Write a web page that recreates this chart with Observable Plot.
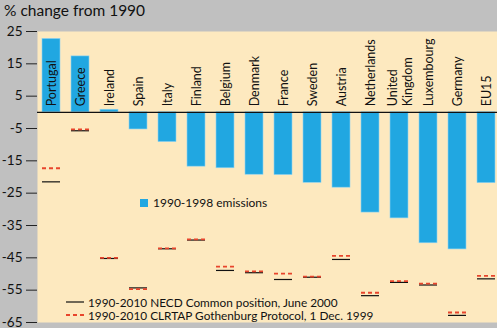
<!DOCTYPE html>
<html><head><meta charset="utf-8">
<script src="https://cdn.jsdelivr.net/npm/d3@7"></script>
<script src="https://cdn.jsdelivr.net/npm/@observablehq/plot@0.6"></script>
<style>
body{margin:0;background:#c0c0c0;font-family:Lato,"Open Sans",sans-serif;}
#wrap{position:relative;width:497px;height:328px;overflow:hidden;}
.ov{position:absolute;white-space:nowrap;color:#111;display:flex;align-items:center;overflow:visible;}
</style></head>
<body><div id="wrap"></div>
<script>
const categories = ["Portugal","Greece","Ireland","Spain","Italy","Finland","Belgium","Denmark","France","Sweden","Austria","Netherlands","United Kingdom","Luxembourg","Germany","EU15"];
const labels = ["Portugal","Greece","Ireland","Spain","Italy","Finland","Belgium","Denmark","France","Sweden","Austria","Netherlands","United\nKingdom","Luxembourg","Germany","EU15"];
const emissions = [22.7, 17.3, 0.8, -5.3, -9.2, -16.8, -17.3, -19.3, -19.4, -21.8, -23.3, -31.0, -32.8, -40.5, -42.4, -21.9];
const necd = [-21.5, -5.7, -45.2, -54.3, -42.2, -39.5, -48.9, -49.6, -51.7, -51.0, -45.5, -56.7, -52.6, -53.4, -62.8, -51.5];
const clrtap = [-17.3, -5.3, -45.0, -54.7, -42.1, -39.3, -47.7, -49.2, -49.9, -50.8, -44.4, -55.8, -52.2, -53.0, -61.9, -50.6];
const yTicks = [25, 15, 5, -5, -15, -25, -35, -45, -55, -65];

const rows = categories.map((c, i) => ({c, label: labels[i], e: emissions[i], n: necd[i], r: clrtap[i]}));

const BAR = "#21a7e1", RED = "#e8452c", BG = "#fde9bf";

const chart = Plot.plot({
  width: 497, height: 328,
  marginTop: 31, marginBottom: 6, marginLeft: 37, marginRight: 0,
  style: "background:#c0c0c0;overflow:visible;font-family:Lato,'Open Sans',sans-serif;",
  x: {type: "band", domain: categories, range: [36, 501.3], paddingInner: 0.39, paddingOuter: 0.195, axis: null},
  y: {domain: [-65, 25], ticks: yTicks, tickSize: 11, tickPadding: 4, label: null},
  marks: [
    Plot.frame({fill: BG, stroke: null}),
    Plot.axisY({ticks: yTicks, tickSize: 11, tickPadding: 4, fontSize: 13.5, stroke: "#222", color: "#111", label: null, tickFormat: d => String(d)}),
    Plot.barY(rows, {x: "c", y: "e", fill: BAR, stroke: "#8fd3f2", strokeWidth: 0.6}),
    Plot.ruleY([0], {stroke: "#111", strokeWidth: 1.2}),
    Plot.text(rows, {x: "c", y: () => 0, text: "label", rotate: -90, textAnchor: "start", dy: -6, fontSize: 12.5, fill: "#111", lineHeight: 1.2}),
    Plot.tickY(rows, {x: "c", y: "n", stroke: "#111", strokeWidth: 1.2}),
    Plot.tickY(rows, {x: "c", y: "r", stroke: RED, strokeWidth: 1.8, strokeDasharray: "4,3"})
  ]
});
const wrap = document.getElementById("wrap");
wrap.appendChild(chart);

function ov(html, left, top, size, h) {
  const d = document.createElement("div");
  d.className = "ov";
  d.style.left = left + "px"; d.style.top = top + "px"; d.style.fontSize = size + "px";
  d.style.height = h + "px"; d.style.lineHeight = h + "px";
  d.innerHTML = html;
  wrap.appendChild(d);
}
ov("% change from 1990", 4, 0, 15.5, 20);
ov(`<span style="display:inline-block;width:8px;height:8px;background:${BAR};margin-right:5px"></span>1990-1998 emissions`, 140, 197, 12, 12);
ov(`<svg width="18" height="4" style="margin-right:4px"><line x1="0" x2="18" y1="2" y2="2" stroke="#111" stroke-width="1.2"/></svg>1990-2010 NECD Common position, June 2000`, 66, 295.5, 11.8, 13);
ov(`<svg width="18" height="4" style="margin-right:4px"><line x1="0" x2="18" y1="2" y2="2" stroke="${RED}" stroke-width="1.8" stroke-dasharray="4,3"/></svg>1990-2010 CLRTAP Gothenburg Protocol, 1 Dec. 1999`, 66, 308.5, 11.8, 13);
</script></body></html>
